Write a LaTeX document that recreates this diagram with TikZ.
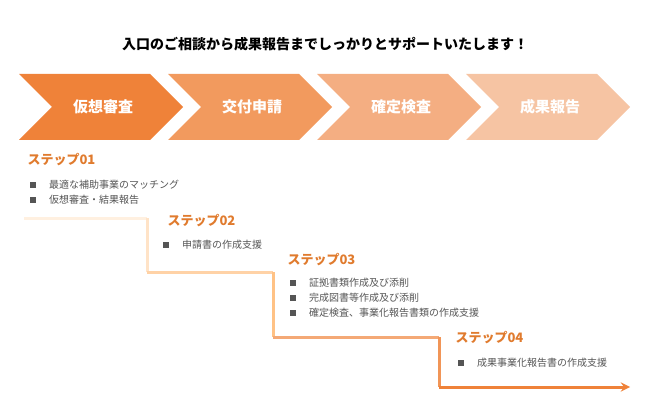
\documentclass[tikz,border=0pt]{standalone}
\usepackage{fontspec}
\setmainfont{Noto Sans CJK JP}
\usetikzlibrary{positioning}
\definecolor{chevA}{HTML}{EF8239}
\definecolor{chevB}{HTML}{F29A5E}
\definecolor{chevC}{HTML}{F4AE82}
\definecolor{chevD}{HTML}{F6C4A3}
\definecolor{steporange}{HTML}{E07B2E}
\definecolor{itemgray}{HTML}{555555}
\tikzset{
  chevlabel/.style={text=white, font=\fontsize{15}{18}\selectfont\bfseries},
  steplabel/.style={anchor=west, text=steporange, font=\fontsize{13}{15}\selectfont\bfseries},
  itemtext/.style={anchor=west, text=itemgray, font=\fontsize{10}{12}\selectfont, inner sep=0pt},
  bulletbox/.style={fill=itemgray, minimum size=6pt, inner sep=0pt},
}
\begin{document}
\begin{tikzpicture}[x=1pt, y=-1pt, >=stealth]
  \useasboundingbox (0,0) rectangle (650,406);

  % タイトル
  \node[font=\fontsize{14}{17}\selectfont\bfseries] (title) at (325,44)
    {入口のご相談から成果報告までしっかりとサポートいたします！};

  % 矢羽根
  \foreach \i/\col/\lab/\nm in {0/chevA/仮想審査/kaso, 1/chevB/交付申請/kofu,
                                2/chevC/確定検査/kakutei, 3/chevD/成果報告/seika} {
    \pgfmathsetmacro{\x}{19+149*\i}
    \fill[\col] (\x,74) -- ({\x+131},74) -- ({\x+164},107) -- ({\x+131},140)
      -- (\x,140) -- ({\x+33},107) -- cycle;
    \node[chevlabel] (\nm) at ({\x+84},107) {\lab};
  }

  % ステップ01
  \node[steplabel] (s1) at (24,160) {ステップ01};
  \node[bulletbox] (b11) at (33,185) {};
  \node[itemtext] (t11) at (49,185) {最適な補助事業のマッチング};
  \node[bulletbox] (b12) at (33,200) {};
  \node[itemtext] (t12) at (49,200) {仮想審査・結果報告};

  % ステップ02
  \node[steplabel] (s2) at (164,221) {ステップ02};
  \node[bulletbox] (b21) at (166,245) {};
  \node[itemtext] (t21) at (182,245) {申請書の作成支援};

  % ステップ03
  \node[steplabel] (s3) at (284,260) {ステップ03};
  \node[bulletbox] (b31) at (293,283) {};
  \node[itemtext] (t31) at (309,283) {証拠書類作成及び添削};
  \node[bulletbox] (b32) at (293,298) {};
  \node[itemtext] (t32) at (309,298) {完成図書等作成及び添削};
  \node[bulletbox] (b33) at (293,313) {};
  \node[itemtext] (t33) at (309,313) {確定検査、事業化報告書類の作成支援};

  % ステップ04
  \node[steplabel] (s4) at (452,338) {ステップ04};
  \node[bulletbox] (b41) at (461,363) {};
  \node[itemtext] (t41) at (477,363) {成果事業化報告書の作成支援};

  % 階段状の矢印
  \coordinate (p0) at (24,218);
  \coordinate (p1) at (147,218);
  \coordinate (p2) at (147,272);
  \coordinate (p3) at (273,272);
  \coordinate (p4) at (273,337);
  \coordinate (p5) at (439,337);
  \coordinate (p6) at (439,387);
  \coordinate (p7) at (630,387);
  \begin{scope}[line width=3pt]
    \draw[orange!12] (p0) -- (p1);
    \draw[orange!22] (p1) -- (p2);
    \draw[orange!35] (p2) -- (p3);
    \draw[orange!48] (p3) -- (p4);
    \draw[chevB!85] (p4) -- (p5);
    \draw[chevA!85] (p5) -- (p6);
    \draw[chevA, ->] (p6) -- (p7);
  \end{scope}
\end{tikzpicture}
\end{document}
